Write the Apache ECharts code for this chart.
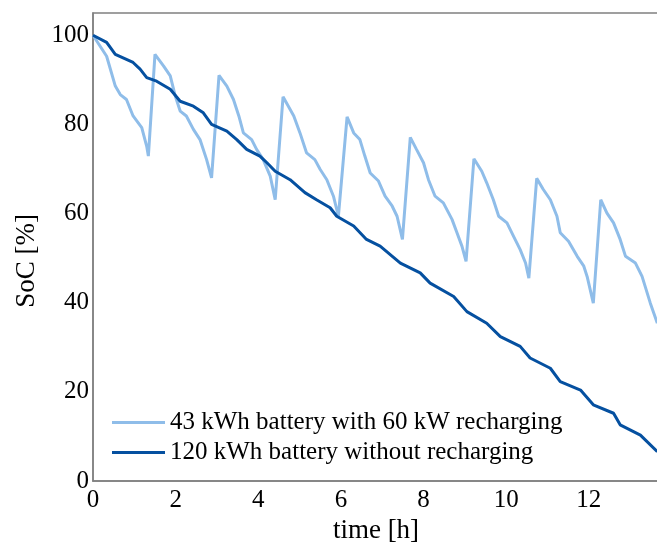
<!DOCTYPE html>
<html lang="en">
<head>
    <meta charset="UTF-8">
    <title>SoC over time</title>
    <script src="https://cdn.jsdelivr.net/npm/echarts@6/dist/echarts.min.js"></script>
    <style>
        html, body {
            margin: 0;
            padding: 0;
            background: #fff;
        }

        #main {
            width: 657px;
            height: 544px;
        }
    </style>
</head>
<body>
<div id="main"></div>

<script type="text/javascript">
    // 43 kWh battery with 60 kW recharging
    const lightTime = [0, 0.33, 0.54, 0.66, 0.81, 0.97, 1.18, 1.30, 1.34,
        1.50, 1.71, 1.87, 1.99, 2.11, 2.26, 2.43, 2.59, 2.75, 2.87,
        3.05, 3.24, 3.40, 3.53, 3.64, 3.84, 3.96, 4.12, 4.29, 4.41,
        4.60, 4.86, 5.01, 5.17, 5.37, 5.50, 5.66, 5.82, 5.94,
        6.15, 6.31, 6.46, 6.58, 6.71, 6.91, 7.07, 7.24, 7.36, 7.49,
        7.68, 7.83, 8.00, 8.12, 8.28, 8.48, 8.69, 8.81, 8.93, 9.03,
        9.22, 9.41, 9.53, 9.69, 9.82, 10.02, 10.18, 10.34, 10.47, 10.55,
        10.74, 10.90, 11.07, 11.23, 11.31, 11.51, 11.72, 11.88, 11.96, 12.11,
        12.29, 12.44, 12.60, 12.76, 12.89, 13.13, 13.29, 13.49, 13.66];
    const lightSoc = [100, 95.3, 88.6, 86.7, 85.6, 81.9, 79.3, 75.1, 72.9,
        95.7, 93.1, 90.9, 86.4, 83.0, 81.9, 78.9, 76.6, 72.1, 68.0,
        91.0, 88.6, 85.6, 81.9, 78.1, 76.6, 74.4, 72.1, 68.4, 63.1,
        86.2, 81.9, 78.1, 73.6, 72.1, 69.9, 67.6, 63.9, 59.4,
        81.7, 78.1, 76.6, 72.9, 69.1, 67.3, 63.9, 61.7, 59.4, 54.2,
        77.1, 74.4, 71.4, 67.6, 63.9, 62.4, 58.7, 55.7, 52.7, 49.3,
        72.3, 69.5, 66.9, 63.1, 59.4, 57.9, 54.9, 51.9, 48.9, 45.5,
        67.9, 65.4, 63.1, 59.4, 55.7, 53.8, 50.4, 48.2, 45.9, 39.9,
        63.1, 60.1, 57.9, 54.2, 50.4, 48.9, 45.9, 39.9, 35.4];

    // 120 kWh battery without recharging
    const darkTime = [0, 0.33, 0.54, 0.97, 1.14, 1.30, 1.54, 1.87, 2.11, 2.43,
        2.67, 2.87, 3.24, 3.48, 3.72, 4.04, 4.21, 4.41, 4.77, 5.13,
        5.41, 5.74, 5.90, 6.31, 6.62, 6.95, 7.44, 7.92, 8.16, 8.73,
        9.05, 9.53, 9.86, 10.34, 10.58, 11.07, 11.31, 11.80, 12.11, 12.60,
        12.76, 13.25, 13.66];
    const darkSoc = [100, 98.4, 95.7, 93.9, 92.4, 90.5, 89.7, 87.9, 85.2, 84.1,
        82.6, 80.0, 78.5, 76.6, 74.4, 72.9, 71.4, 69.5, 67.6, 64.7,
        63.1, 61.3, 59.4, 57.2, 54.2, 52.7, 48.9, 46.7, 44.4, 41.4,
        38.0, 35.4, 32.4, 30.2, 27.6, 25.3, 22.3, 20.4, 17.1, 15.2,
        12.6, 10.3, 6.6];

    const seriesNames = ['43 kWh battery with 60 kW recharging', '120 kWh battery without recharging'];

    function zip(xs, ys) {
        return xs.map(function (x, i) {
            return [x, ys[i]];
        });
    }

    const serif = "'Liberation Serif', 'Times New Roman', serif";
    const lightBlue = '#8fbde9';
    const darkBlue = '#0550a0';

    let chart = echarts.init(document.getElementById('main'));
    let option = {
        animation: false,
        textStyle: {fontFamily: serif},
        grid: {
            show: true,
            left: 93,
            top: 13,
            right: -2,
            bottom: 63,
            outerBoundsMode: 'none',
            borderColor: '#808080',
            borderWidth: 1.5
        },
        legend: {
            orient: 'vertical',
            left: 112,
            top: 410,
            padding: 0,
            icon: 'rect',
            itemWidth: 53,
            itemHeight: 3,
            itemGap: 5,
            textStyle: {fontFamily: serif, fontSize: 25, lineHeight: 25, color: '#000'},
            data: seriesNames
        },
        xAxis: {
            type: 'value',
            min: 0,
            max: 13.7,
            interval: 2,
            name: 'time [h]',
            nameLocation: 'middle',
            nameGap: 35,
            nameTextStyle: {fontFamily: serif, fontSize: 27, color: '#000'},
            axisLine: {lineStyle: {color: '#808080', width: 1.5}},
            axisTick: {show: false},
            splitLine: {show: false},
            axisLabel: {
                margin: 7,
                fontFamily: serif,
                fontSize: 25,
                color: '#000',
                showMaxLabel: false
            }
        },
        yAxis: {
            type: 'value',
            min: 0,
            max: 105,
            interval: 20,
            name: 'SoC [%]',
            nameLocation: 'middle',
            nameGap: 50,
            nameTextStyle: {fontFamily: serif, fontSize: 27, color: '#000', padding: [0, 28, 0, 0]},
            axisLine: {show: true, lineStyle: {color: '#808080', width: 1.5}},
            axisTick: {show: false},
            splitLine: {show: false},
            axisLabel: {
                margin: 4,
                fontFamily: serif,
                fontSize: 25,
                color: '#000',
                showMaxLabel: false
            }
        },
        series: [
            {
                name: seriesNames[0],
                type: 'line',
                symbol: 'none',
                color: lightBlue,
                lineStyle: {width: 3, color: lightBlue},
                data: zip(lightTime, lightSoc)
            },
            {
                name: seriesNames[1],
                type: 'line',
                symbol: 'none',
                color: darkBlue,
                lineStyle: {width: 3, color: darkBlue},
                data: zip(darkTime, darkSoc)
            }
        ]
    };

    chart.setOption(option);
</script>
</body>
</html>
